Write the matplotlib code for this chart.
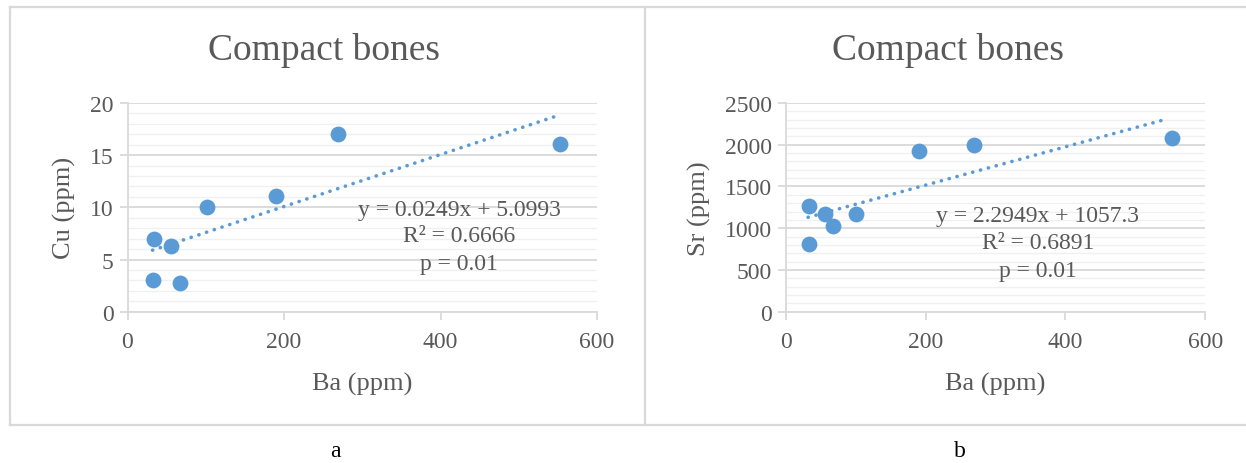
import matplotlib
matplotlib.use("Agg")
import matplotlib.pyplot as plt
from matplotlib.lines import Line2D
from matplotlib.ticker import MultipleLocator
import numpy as np

# ---- data ----
ba = [33, 34, 56, 67, 101, 190, 269, 553]
cu = [3.0, 7.0, 6.3, 2.75, 10.0, 11.05, 17.05, 16.05]
sr = [1265, 810, 1170, 1030, 1175, 1920, 2000, 2075]

cu_fit = (0.0249, 5.0993)
sr_fit = (2.2949, 1057.3)
fit_range = (32, 545)

title = "Compact bones"
xlabel = "Ba (ppm)"
cu_label = "Cu (ppm)"
sr_label = "Sr (ppm)"
cu_text = ["y = 0.0249x + 5.0993", "R² = 0.6666", "p = 0.01"]
sr_text = ["y = 2.2949x + 1057.3", "R² = 0.6891", "p = 0.01"]
x_ticks = [0, 200, 400, 600]
cu_ticks = [0, 5, 10, 15, 20]
sr_ticks = [0, 500, 1000, 1500, 2000, 2500]

# ---- style ----
plt.rcParams['font.family'] = ['Liberation Serif', 'DejaVu Serif']
TXT = '#595959'
BLUE = '#5B9BD5'
MAJ = '#d9d9d9'
MIN = '#f0f0f0'

W, H = 1246, 464
fig = plt.figure(figsize=(W / 100, H / 100), dpi=100)

def px_axes(x0, y0, x1, y1):
    return fig.add_axes([x0 / W, 1 - y1 / H, (x1 - x0) / W, (y1 - y0) / H])

# frame lines
for (xa, ya, xb, yb) in [(10, 7.5, 1246, 7.5), (10, 425.7, 1246, 425.7),
                         (10, 7.5, 10, 425.7), (645, 7.5, 645, 425.7)]:
    fig.add_artist(Line2D([xa / W, xb / W], [1 - ya / H, 1 - yb / H],
                          color=MAJ, lw=1.6, transform=fig.transFigure))

def panel(ax, y, ymax, yticks, minor, ylabel, fit, texts, tx, tys):
    ax.set_xlim(0, 600)
    ax.set_ylim(0, ymax)
    ax.set_xticks(x_ticks)
    ax.set_yticks(yticks)
    ax.yaxis.set_minor_locator(MultipleLocator(minor))
    ax.grid(True, which='minor', axis='y', color=MIN, lw=1.0)
    ax.grid(True, which='major', axis='y', color=MAJ, lw=1.3)
    ax.set_axisbelow(True)
    for s in ['top', 'right']:
        ax.spines[s].set_visible(False)
    for s in ['left', 'bottom']:
        ax.spines[s].set_color(MAJ)
        ax.spines[s].set_linewidth(1.3)
    ax.tick_params(axis='both', which='major', colors=MAJ, length=6, width=1.3,
                   labelcolor=TXT, labelsize=17)
    ax.tick_params(axis='y', which='minor', length=0)
    ax.tick_params(axis='x', pad=8)
    ax.tick_params(axis='y', pad=4)
    ax.scatter(ba, y, s=130, color=BLUE, zorder=3, linewidths=0)
    xf = np.array(fit_range, dtype=float)
    ax.plot(xf, fit[0] * xf + fit[1], color=BLUE, lw=2.6,
            linestyle=(0, (0.05, 2.2)), dash_capstyle='round', zorder=2)
    for t, ty in zip(texts, tys):
        ax.text(tx, ty, t, transform=ax.transAxes, ha='center', va='center',
                fontsize=17, color=TXT)
    ax.set_xlabel(xlabel, fontsize=19, color=TXT, labelpad=14)
    ax.set_ylabel(ylabel, fontsize=19, color=TXT, labelpad=10)
    for lbl in ax.get_xticklabels() + ax.get_yticklabels():
        lbl.set_clip_on(False)

ax1 = px_axes(127.5, 104, 597, 312.7)
panel(ax1, cu, 20, cu_ticks, 1, cu_label, cu_fit, cu_text, 0.706,
      [0.492, 0.364, 0.229])

ax2 = px_axes(785.7, 104, 1205.3, 312.7)
panel(ax2, sr, 2500, sr_ticks, 100, sr_label, sr_fit, sr_text, 0.601,
      [0.46, 0.332, 0.196])

fig.text(324 / W, 1 - 50 / H, title, ha='center', va='center', fontsize=27, color=TXT)
fig.text(948 / W, 1 - 50 / H, title, ha='center', va='center', fontsize=27, color=TXT)
fig.text(335 / W, 1 - 452 / H, "a", ha='center', va='center', fontsize=17, color='black')
fig.text(960 / W, 1 - 452 / H, "b", ha='center', va='center', fontsize=17, color='black')

fig.savefig("out.png", dpi=100, facecolor='white')
